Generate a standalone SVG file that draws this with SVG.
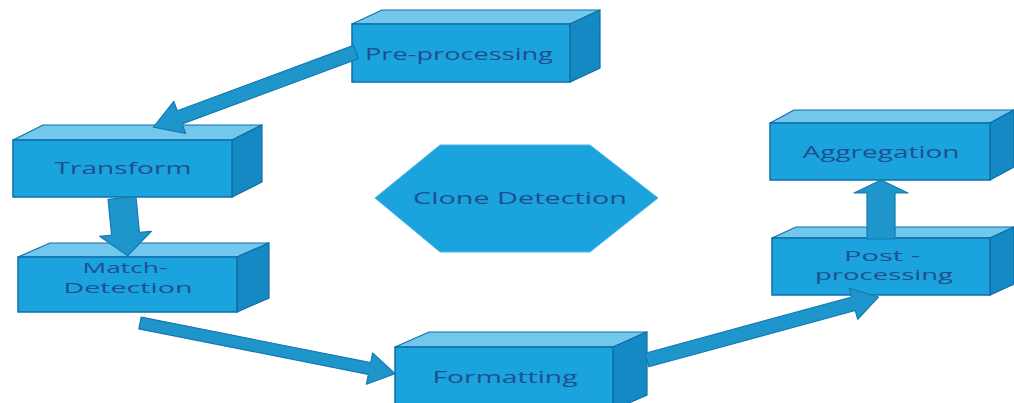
<svg xmlns="http://www.w3.org/2000/svg" width="1014" height="403" viewBox="0 0 1014 403">
  <style>
    .front { fill: #1BA3DD; stroke: #0F6FA8; stroke-width: 1.5; }
    .top   { fill: #72C7EC; stroke: #0F6FA8; stroke-width: 1.2; }
    .side  { fill: #1589C3; stroke: #0F6FA8; stroke-width: 1.2; }
    .hex   { fill: #1BA3DD; stroke: #4FB6E4; stroke-width: 1; }
    .arrow { fill: #1E96CB; stroke: #147AB0; stroke-width: 1.2; stroke-linejoin: round; }
    .label { font-family: "Open Sans", "Liberation Sans", sans-serif; font-size: 16px; fill: #1E4F8F; text-anchor: middle; }
    .small { font-size: 14px; }
  </style>
  <rect width="1014" height="403" fill="#FFFFFF"/>

  <!-- process boxes: front face, top face, right face -->
  <g id="pre-processing">
    <polygon class="top" points="352,24 382,10 600,10 570,24"/>
    <polygon class="side" points="570,24 600,10 600,68 570,82"/>
    <rect class="front" x="352" y="24" width="218" height="58"/>
    <text class="label" x="459" y="60" textLength="188" lengthAdjust="spacingAndGlyphs">Pre-processing</text>
  </g>

  <g id="transform">
    <polygon class="top" points="13,140 43,125 262,125 232,140"/>
    <polygon class="side" points="232,140 262,125 262,182 232,197"/>
    <rect class="front" x="13" y="140" width="219" height="57"/>
    <text class="label" x="123" y="174" textLength="137" lengthAdjust="spacingAndGlyphs">Transform</text>
  </g>

  <g id="match-detection">
    <polygon class="top" points="18,257 50,243 269,243 237,257"/>
    <polygon class="side" points="237,257 269,243 269,298 237,312"/>
    <rect class="front" x="18" y="257" width="219" height="55"/>
    <text class="label small" x="125" y="273" textLength="85" lengthAdjust="spacingAndGlyphs">Match-</text>
    <text class="label small" x="128" y="293" textLength="129" lengthAdjust="spacingAndGlyphs">Detection</text>
  </g>

  <g id="clone-detection">
    <polygon class="hex" points="375,198 440,145 590,145 658,198 590,252 440,252"/>
    <text class="label" x="520" y="204" textLength="214" lengthAdjust="spacingAndGlyphs">Clone Detection</text>
  </g>

  <g id="aggregation">
    <polygon class="top" points="770,123 794,110 1014,110 990,123"/>
    <polygon class="side" points="990,123 1014,110 1014,167 990,180"/>
    <rect class="front" x="770" y="123" width="220" height="57"/>
    <text class="label" x="881" y="158" textLength="157" lengthAdjust="spacingAndGlyphs">Aggregation</text>
  </g>

  <g id="post-processing">
    <polygon class="top" points="772,238 796,227 1014,227 990,238"/>
    <polygon class="side" points="990,238 1014,227 1014,284 990,295"/>
    <rect class="front" x="772" y="238" width="218" height="57"/>
    <text class="label small" x="882" y="261" textLength="76" lengthAdjust="spacingAndGlyphs">Post -</text>
    <text class="label small" x="884" y="280" textLength="138" lengthAdjust="spacingAndGlyphs">processing</text>
  </g>

  <g id="formatting">
    <polygon class="top" points="395,347 429,332 647,332 613,347"/>
    <polygon class="side" points="613,347 647,332 647,395 613,410"/>
    <rect class="front" x="395" y="347" width="218" height="63"/>
    <text class="label" x="505" y="383" textLength="145" lengthAdjust="spacingAndGlyphs">Formatting</text>
  </g>

  <!-- block arrows, each drawn along +x from its tail and rotated into place -->
  <g id="connectors">
    <!-- Pre-processing to Transform -->
    <polygon class="arrow" transform="translate(356,52) rotate(159.66)" points="0,-7 188,-7 188,-17 216,0 188,17 188,7 0,7"/>
    <!-- Transform to Match-Detection -->
    <polygon class="arrow" transform="translate(122,198) rotate(84.4)" points="0,-14 36,-14 36,-26 58,0 36,26 36,14 0,14"/>
    <!-- Match-Detection to Formatting -->
    <polygon class="arrow" transform="translate(140,323) rotate(11.22)" points="0,-6 234,-6 234,-16 260,0 234,16 234,6 0,6"/>
    <!-- Formatting to Post-processing -->
    <polygon class="arrow" transform="translate(647,360) rotate(-15.23)" points="0,-7 214,-7 214,-16 240,0 214,16 214,7 0,7"/>
    <!-- Post-processing to Aggregation -->
    <polygon class="arrow" transform="translate(881,239) rotate(-90)" points="0,-14 46,-14 46,-27 59,0 46,27 46,14 0,14"/>
  </g>
</svg>
